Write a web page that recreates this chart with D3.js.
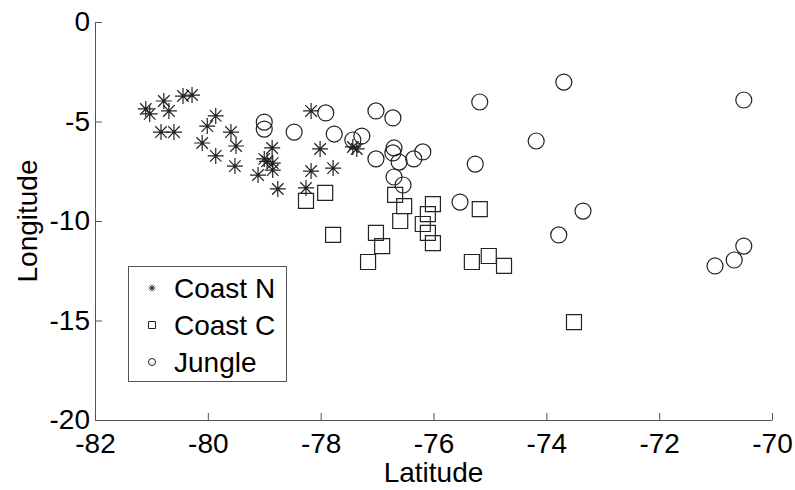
<!DOCTYPE html>
<html>
<head>
<meta charset="utf-8">
<script src="https://cdn.jsdelivr.net/npm/d3@7"></script>
<style>
  body { margin: 0; background: #fff; }
  text { font-family: "Liberation Sans", Arial, sans-serif; fill: #000; }
</style>
</head>
<body>
<div id="canvas"></div>
<script>
// [latitude, longitude] pairs
const coastN = [
  [-81.10, -4.37], [-81.03, -4.62], [-80.78, -3.97], [-80.69, -4.47],
  [-80.44, -3.72], [-80.28, -3.67], [-80.83, -5.53], [-80.60, -5.53],
  [-80.01, -5.23], [-79.86, -4.72], [-80.10, -6.08], [-79.86, -6.73],
  [-79.59, -5.53], [-79.50, -6.23], [-79.52, -7.24], [-79.11, -7.69],
  [-79.00, -6.88], [-78.86, -6.33], [-78.85, -7.09], [-78.85, -7.44],
  [-78.95, -7.00], [-78.76, -8.39], [-78.17, -4.47], [-78.01, -6.38],
  [-78.17, -7.49], [-77.78, -7.34], [-78.26, -8.34], [-77.43, -6.28],
  [-77.36, -6.38]
];
const coastC = [
  [-78.26, -8.99], [-77.92, -8.59], [-77.78, -10.70], [-76.68, -8.69],
  [-76.52, -9.25], [-76.59, -10.00], [-77.02, -10.60], [-76.91, -11.26],
  [-77.16, -12.06], [-76.01, -9.15], [-76.10, -9.65], [-76.19, -10.15],
  [-76.10, -10.60], [-76.01, -11.11], [-75.18, -9.40], [-75.32, -12.06],
  [-75.02, -11.76], [-74.75, -12.26], [-73.51, -15.08]
];
const jungle = [
  [-79.00, -5.03], [-79.00, -5.38], [-78.47, -5.53], [-77.91, -4.57],
  [-77.76, -5.63], [-77.43, -5.93], [-77.27, -5.73], [-77.02, -4.47],
  [-76.72, -4.82], [-77.02, -6.88], [-76.70, -6.33], [-76.72, -6.58],
  [-76.61, -7.04], [-76.35, -6.88], [-76.19, -6.53], [-76.70, -7.79],
  [-76.54, -8.19], [-75.18, -4.02], [-73.69, -3.02], [-74.18, -5.98],
  [-75.26, -7.14], [-75.53, -9.05], [-73.35, -9.50], [-73.78, -10.70],
  [-70.50, -3.92], [-70.50, -11.26], [-70.67, -11.96], [-71.01, -12.26]
];
const legendNames = ["Coast N", "Coast C", "Jungle"];
const xTicks = [-82, -80, -78, -76, -74, -72, -70];
const yTicks = [0, -5, -10, -15, -20];

const width = 795;
const height = 490;
const plotLeft = 95, plotRight = 772, plotTop = 22, plotBottom = 420;

const x = d3.scaleLinear([-82, -70], [plotLeft, plotRight]);
const y = d3.scaleLinear([-20, 0], [plotBottom, plotTop]);

const svg = d3
  .select("#canvas")
  .append("svg")
  .attr("width", width)
  .attr("height", height);

// marker shapes
function asterisk(r) {
  const d = r * 0.72;
  return `M${-r},0H${r}M0,${-r}V${r}M${-d},${-d}L${d},${d}M${-d},${d}L${d},${-d}`;
}
function square(s) {
  return `M${-s},${-s}H${s}V${s}H${-s}Z`;
}
function circle(r) {
  return `M${r},0A${r},${r},0,1,1,${-r},0A${r},${r},0,1,1,${r},0Z`;
}

const series = [
  { data: coastN, path: asterisk(8), legend: asterisk(3.5) },
  { data: coastC, path: square(7.5), legend: square(3.5) },
  { data: jungle, path: circle(8), legend: circle(3.5) }
];

// Draw points
for (const s of series) {
  svg
    .append("g")
    .selectAll("path")
    .data(s.data)
    .enter()
    .append("path")
    .attr("transform", (d) => `translate(${x(d[0])},${y(d[1])})`)
    .attr("d", s.path)
    .attr("fill", "none")
    .attr("stroke", "#222")
    .attr("stroke-width", 1.2);
}

// Draw axes
const xAxis = d3
  .axisBottom(x)
  .tickValues(xTicks)
  .tickFormat((d) => String(d))
  .tickSizeInner(-7)
  .tickSizeOuter(0)
  .tickPadding(13);
const yAxis = d3
  .axisLeft(y)
  .tickValues(yTicks)
  .tickFormat((d) => String(d))
  .tickSizeInner(-7)
  .tickSizeOuter(0)
  .tickPadding(5);

svg
  .append("g")
  .attr("transform", `translate(0,${plotBottom})`)
  .call(xAxis)
  .call((g) => g.selectAll("text").attr("font-size", 28).attr("font-family", "Liberation Sans").attr("fill", "#000"))
  .call((g) => g.selectAll("line,path").attr("stroke", "#555"));

svg
  .append("g")
  .attr("transform", `translate(${plotLeft},0)`)
  .call(yAxis)
  .call((g) => g.selectAll("text").attr("font-size", 28).attr("font-family", "Liberation Sans").attr("fill", "#000"))
  .call((g) => g.selectAll("line,path").attr("stroke", "#555"));

// Axis labels
svg
  .append("text")
  .attr("x", (plotLeft + plotRight) / 2)
  .attr("y", 482)
  .attr("text-anchor", "middle")
  .attr("font-size", 28)
  .text("Latitude");

svg
  .append("text")
  .attr("transform", `translate(37,${(plotTop + plotBottom) / 2}) rotate(-90)`)
  .attr("text-anchor", "middle")
  .attr("font-size", 28)
  .text("Longitude");

// Legend
const legend = svg.append("g");
legend
  .append("rect")
  .attr("x", 128.5)
  .attr("y", 266.5)
  .attr("width", 158)
  .attr("height", 115)
  .attr("fill", "#fff")
  .attr("stroke", "#555");

series.forEach((s, i) => {
  const cy = 288 + i * 37;
  legend
    .append("path")
    .attr("transform", `translate(152,${cy})`)
    .attr("d", s.legend)
    .attr("fill", "none")
    .attr("stroke", "#222")
    .attr("stroke-width", 1);
  legend
    .append("text")
    .attr("x", 174)
    .attr("y", cy + 10)
    .attr("font-size", 28)
    .text(legendNames[i]);
});
</script>
</body>
</html>
